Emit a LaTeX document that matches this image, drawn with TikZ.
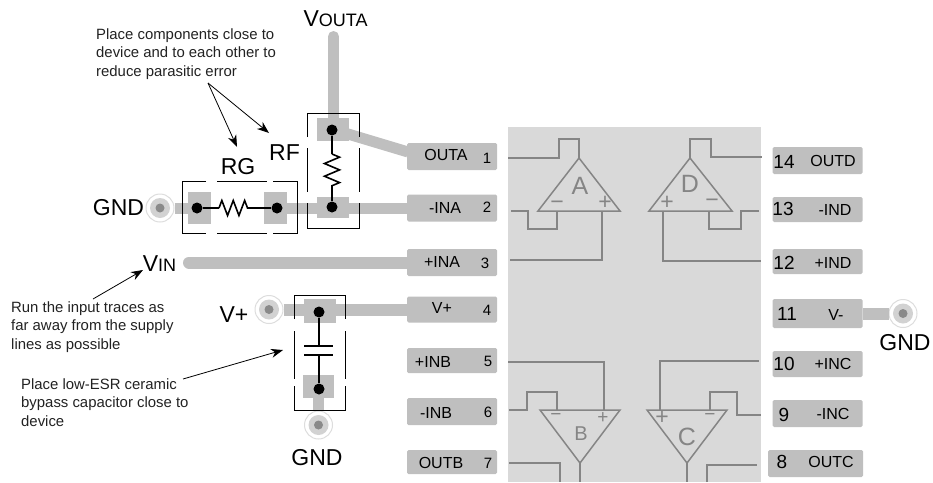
\documentclass[tikz,border=0pt]{standalone}
\usepackage{fontspec}
\setmainfont{Liberation Sans}
\usetikzlibrary{arrows.meta,decorations.pathmorphing}
\definecolor{chipgray}{HTML}{D9D9D9}
\definecolor{padgray}{HTML}{BFBFBF}
\definecolor{wiregray}{HTML}{858585}
\definecolor{ringgray}{HTML}{DDDDDD}
\definecolor{viagray}{HTML}{D2D2D2}
\definecolor{holegray}{HTML}{8A8A8A}
\definecolor{notegray}{HTML}{222222}
\newcommand{\smallcap}[1]{{\fontsize{18}{18}\selectfont #1}}
\tikzset{
  icpin/.style={fill=padgray,rounded corners=1.5pt,inner sep=0pt,minimum width=90pt,minimum height=#1},
  pad/.style 2 args={fill=padgray,inner sep=0pt,minimum width=#1,minimum height=#2},
  viaring/.style={circle,draw=ringgray,fill=white,line width=1pt,inner sep=0pt,minimum size=28pt},
  viafill/.style={circle,fill=viagray,inner sep=0pt,minimum size=20pt},
  viahole/.style={circle,fill=holegray,inner sep=0pt,minimum size=9pt},
  dot/.style={circle,fill=black,inner sep=0pt,minimum size=11pt},
  trace/.style={color=padgray,line width=11pt},
  leadwire/.style={line width=1.6pt},
  resist/.style={leadwire,decorate,decoration={zigzag,segment length=#1,amplitude=7.5pt}},
  outline/.style={line width=1pt},
  opwire/.style={color=wiregray,line width=1.5pt},
  callout/.style={line width=.8pt,-{Stealth[length=12pt,width=9pt]}},
  pintext/.style={font=\fontsize{16}{16}\selectfont,inner sep=0pt},
  numleft/.style={font=\fontsize{15}{15}\selectfont,inner sep=0pt},
  numright/.style={font=\fontsize{19}{19}\selectfont,inner sep=0pt},
  biglabel/.style={font=\fontsize{23}{23}\selectfont,inner sep=0pt},
  note/.style={font=\fontsize{14.9}{18.4}\selectfont,color=notegray,align=left,anchor=north west,inner sep=0pt},
  opname/.style={font=\fontsize{25}{25}\selectfont,color=wiregray,inner sep=0pt},
  opsign/.style={font=\fontsize{23}{23}\selectfont,color=wiregray,inner sep=0pt},
  opsignsmall/.style={font=\fontsize{19}{19}\selectfont,color=wiregray,inner sep=0pt}
}
\begin{document}
\begin{tikzpicture}[x=1pt,y=-1pt]
  \useasboundingbox (0,0) rectangle (933,482);
  \fill[chipgray] (508,127) rectangle (761,482);
  \path
    (452,156.5) node[icpin=27pt] (pin1){}
    (452,208) node[icpin=27pt] (pin2){}
    (452,262.5) node[icpin=27pt] (pin3){}
    (452,309.5) node[icpin=26pt] (pin4){}
    (452,360.5) node[icpin=25pt] (pin5){}
    (452,411.5) node[icpin=27pt] (pin6){}
    (452,462) node[icpin=24pt] (pin7){}
    (815.5,463.5) node[icpin=27pt,minimum width=95pt] (pin8){}
    (817.5,413.5) node[icpin=27pt] (pin9){}
    (817.5,364) node[icpin=26pt] (pin10){}
    (817.5,313.5) node[icpin=29pt] (pin11){}
    (817.5,261.5) node[icpin=25pt] (pin12){}
    (817.5,209.5) node[icpin=25pt] (pin13){}
    (817.5,160.5) node[icpin=27pt] (pin14){};
  \path
    (160,208) node[viaring] (viaRG){}
    (269,309.5) node[viaring] (viaV){}
    (318.5,425) node[viaring] (viaC){}
    (903,313.5) node[viaring] (viaR){};
  \path
    (160,208) node[viafill] (fillRG){}
    (269,309.5) node[viafill] (fillV){}
    (318.5,425) node[viafill] (fillC){}
    (903,313.5) node[viafill] (fillR){}
    (160,208) node[viahole] (holeRG){}
    (269,309.5) node[viahole] (holeV){}
    (318.5,425) node[viahole] (holeC){}
    (903,313.5) node[viahole] (holeR){};
  \path
    (333,129.5) node[pad={32pt}{23pt}] (padRFa){}
    (333,207.5) node[pad={32pt}{21pt}] (padRFb){}
    (199.5,208) node[pad={23pt}{32pt}] (padRGa){}
    (275.5,208) node[pad={23pt}{32pt}] (padRGb){}
    (320,311) node[pad={32pt}{24pt}] (padCa){}
    (318.5,386.5) node[pad={31pt}{23pt}] (padCb){};
  \coordinate (endVout) at (333.5,36.5);
  \coordinate (endOuta) at (408,152);
  \coordinate (endVin) at (189,262.5);
  \begin{scope}[trace]
    \draw[line cap=round] (endVout) to (padRFa.north -| endVout);
    \draw (padRFa.center) to (endOuta);
    \draw (viaRG) to (padRGa);
    \draw (padRGb) to (pin2);
    \draw[line width=12pt,line cap=round] (endVin) to (pin3);
    \draw[line width=12pt] (viaV) to (pin4);
    \draw (padCb) to (viaC);
    \draw[line width=12pt] (pin11) to (viaR);
  \end{scope}
  \path
    (332,130) node[dot] (dotRFa){}
    (332,207) node[dot] (dotRFb){}
    (197,208) node[dot] (dotRGa){}
    (277,208) node[dot] (dotRGb){}
    (319,312) node[dot] (dotCa){}
    (319,389) node[dot] (dotCb){};
  \coordinate (rfTop) at (332,154);
  \coordinate (rfBot) at (332,192);
  \coordinate (rgLeft) at (219,208);
  \coordinate (rgRight) at (253,208);
  \coordinate (capTop) at (319,346);
  \coordinate (capBot) at (319,355);
  \begin{scope}[leadwire]
    \draw (dotRFa) to (rfTop);
    \draw (rfBot) to (dotRFb);
    \draw (dotRGa) to (rgLeft);
    \draw (rgRight) to (dotRGb);
    \draw (dotCa) to (capTop);
    \draw (capBot) to (dotCb);
    \draw (304,346) to (333,346);
    \draw (304,355) to (333,355);
  \end{scope}
  \draw[resist=12.7pt] (rfTop) -- (rfBot);
  \draw[resist=11.4pt] (rgLeft) -- (rgRight);
  \begin{scope}[outline]
    \draw (206,181) -- (182,181) -- (182,233) -- (206,233);
    \draw (217,181) -- (267,181);
    \draw (217,233) -- (267,233);
    \draw (273,181) -- (297,181) -- (297,233) -- (273,233);
    \draw (307,137) -- (307,113) -- (359,113) -- (359,137);
    \draw (307,148) -- (307,192);
    \draw (359,148) -- (359,192);
    \draw (307,203) -- (307,228) -- (359,228) -- (359,203);
    \draw (294,319) -- (294,295.5) -- (345,295.5) -- (345,319);
    \draw (294,331) -- (294,379);
    \draw (345,331) -- (345,379);
    \draw (294,386) -- (294,410) -- (345,410) -- (345,386);
  \end{scope}
  \path
    (579,158) coordinate (apexA)
    (557,211) coordinate (minusA)
    (602,211) coordinate (plusA)
    (690,158) coordinate (apexD)
    (709,211) coordinate (minusD)
    (663,211) coordinate (plusD)
    (580,463) coordinate (apexB)
    (557,410) coordinate (minusB)
    (604,410) coordinate (plusB)
    (687,463) coordinate (apexC)
    (710,410) coordinate (minusC)
    (660,410) coordinate (plusC);
  \begin{scope}[opwire]
    \draw (538,211) -- (apexA) -- (620,211) -- cycle;
    \draw (649,211) -- (apexD) -- (732,211) -- cycle;
    \draw (540,410) -- (apexB) -- (620,410) -- cycle;
    \draw (647,410) -- (apexC) -- (727,410) -- cycle;
    \draw (508,158) -- (559,158) -- (559,139) -- (579,139) -- (apexA);
    \draw (511,211) -- (528,211) -- (528,229) -- (557,229) -- (minusA);
    \draw (510,260) -- (602,260) -- (plusA);
    \draw (508,362) -- (604,362) -- (plusB);
    \draw (509,410) -- (527,410) -- (527,392) -- (557,392) -- (minusB);
    \draw (509,463) -- (560,463) -- (560,482);
    \draw (apexB) -- (580,482);
    \draw (apexD) -- (690,139) -- (711,139) -- (711,157) -- (762,157);
    \draw (759,211) -- (741,211) -- (741,229) -- (709,229) -- (minusD);
    \draw (plusD) -- (663,261) -- (761,261);
    \draw (plusC) -- (660,361) -- (759,361);
    \draw (minusC) -- (710,392) -- (737,392) -- (737,415) -- (761,415);
    \draw (apexC) -- (687,482);
    \draw (707,482) -- (707,465) -- (757,465);
  \end{scope}
  \path
    (580,186) node[opname] (nameA){A}
    (690,184) node[opname] (nameD){D}
    (581,434) node[opname,font=\fontsize{20}{20}\selectfont] (nameB){B}
    (687,437) node[opname] (nameC){C}
    (557,205) node[opsign] (signAm){−}
    (605,203) node[opsign] (signAp){+}
    (712,203) node[opsign] (signDm){−}
    (667,203) node[opsign] (signDp){+}
    (556,417) node[opsignsmall] (signBm){−}
    (603,418) node[opsignsmall] (signBp){+}
    (710,417) node[opsignsmall] (signCm){−}
    (662,418) node[opsign] (signCp){+};
  \path
    (446,155) node[pintext] (textOuta){OUTA}
    (445,208) node[pintext] (textIna){-INA}
    (442,262) node[pintext] (textPina){+INA}
    (442,308) node[pintext] (textVp){V+}
    (433,362) node[pintext] (textPinb){+INB}
    (436,413) node[pintext] (textInb){-INB}
    (441,463) node[pintext] (textOutb){OUTB}
    (833,161) node[pintext] (textOutd){OUTD}
    (835,210) node[pintext] (textInd){-IND}
    (833,263) node[pintext] (textPind){+IND}
    (836,315) node[pintext] (textVm){V-}
    (833,364) node[pintext] (textPinc){+INC}
    (833,414) node[pintext] (textInc){-INC}
    (831,462) node[pintext] (textOutc){OUTC};
  \path
    (487,158) node[numleft] (num1){1}
    (487,207) node[numleft] (num2){2}
    (485,263) node[numleft] (num3){3}
    (487,310) node[numleft] (num4){4}
    (488,361) node[numleft] (num5){5}
    (488,412) node[numleft] (num6){6}
    (488,463) node[numleft] (num7){7}
    (782,462) node[numright] (num8){8}
    (784,415) node[numright] (num9){9}
    (784,364) node[numright] (num10){10}
    (787,314) node[numright] (num11){11}
    (784,263) node[numright] (num12){12}
    (783,209) node[numright] (num13){13}
    (784,162) node[numright] (num14){14};
  \path
    (118.5,208) node[biglabel] (labGndA){GND}
    (317,458) node[biglabel] (labGndB){GND}
    (905,343) node[biglabel] (labGndC){GND}
    (238,167) node[biglabel] (labRG){RG}
    (284.5,153) node[biglabel] (labRF){RF}
    (234,315) node[biglabel] (labVp){V+}
    (335.5,19) node[biglabel] (labVout){V\smallcap{OUTA}}
    (159.5,264) node[biglabel] (labVin){V\smallcap{IN}};
  \node[note] (noteRG) at (96,28.5) {Place components close to\\device and to each other to\\reduce parasitic error};
  \node[note] (noteVin) at (11,301.5) {Run the input traces as\\far away from the supply\\lines as possible};
  \node[note] (noteCap) at (21,378.5) {Place low-ESR ceramic\\bypass capacitor close to\\device};
  \coordinate (tailRG) at (208,83);
  \coordinate (tipRG) at (237,147);
  \coordinate (tipRF) at (269,133);
  \coordinate (tailVin) at (93,299);
  \coordinate (tipVin) at (143,270);
  \coordinate (tailCap) at (183,379);
  \coordinate (tipCap) at (283,350);
  \begin{scope}[callout]
    \draw (tailRG) to (tipRG);
    \draw (tailRG) to (tipRF);
    \draw (tailVin) to (tipVin);
    \draw (tailCap) to (tipCap);
  \end{scope}
\end{tikzpicture}
\end{document}
